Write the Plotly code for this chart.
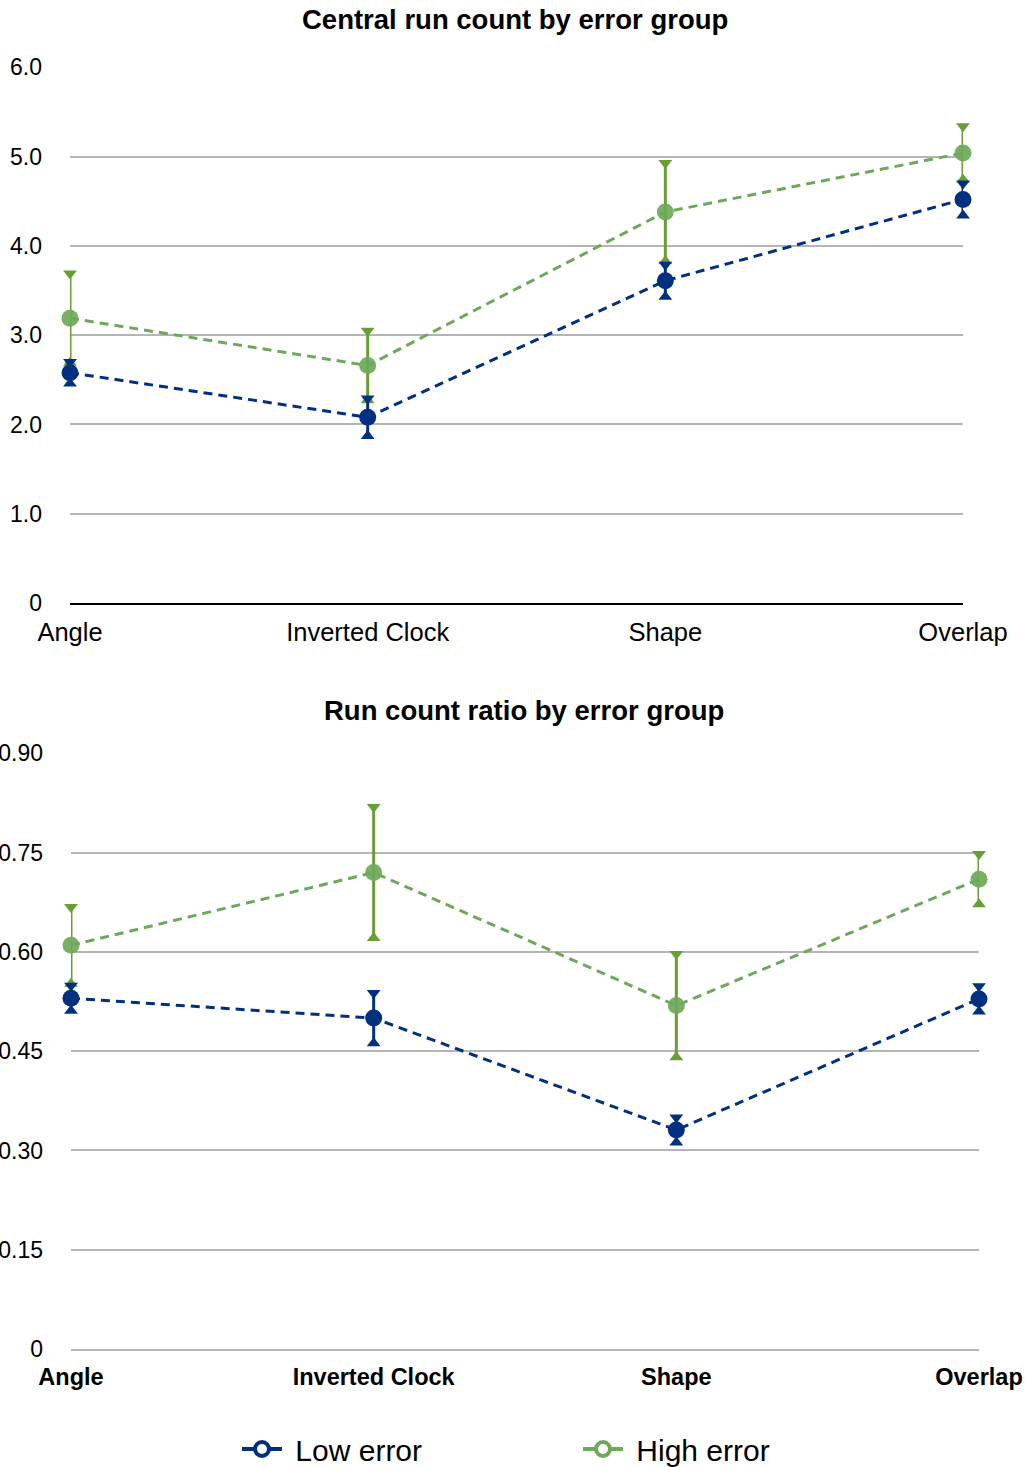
import plotly.graph_objects as go

categories = ["Angle", "Inverted Clock", "Shape", "Overlap"]

# Top chart: central run count
count_low = [2.58, 2.08, 3.61, 4.52]
count_low_err = [0.12, 0.21, 0.18, 0.18]
count_high = [3.19, 2.66, 4.38, 5.04]
count_high_err = [0.50, 0.39, 0.55, 0.30]

# Bottom chart: run count ratio
ratio_low = [0.530, 0.500, 0.331, 0.529]
ratio_low_err = [0.019, 0.038, 0.019, 0.019]
ratio_high = [0.610, 0.720, 0.519, 0.710]
ratio_high_err = [0.058, 0.099, 0.078, 0.038]

top_ticks = [0, 1, 2, 3, 4, 5, 6]
top_ticktext = ["0", "1.0", "2.0", "3.0", "4.0", "5.0", "6.0"]
bot_ticks = [0, 0.15, 0.30, 0.45, 0.60, 0.75, 0.90]
bot_ticktext = ["0", "0.15", "0.30", "0.45", "0.60", "0.75", "0.90"]

series_names = ["Low error", "High error"]

BLUE = "#00307f"
GREEN_LINE = "#6fa85a"
GREEN_BAR = "#679f35"
GREEN_MARK = "rgba(111,168,90,0.92)"
GRID = "#b4b4b4"
FONT = "Liberation Sans, Arial, Helvetica, sans-serif"

W, H = 1025, 1467

fig = go.Figure()


def add_series(xa, ya, vals, errs, line_color, bar_color, mark_color):
    fig.add_trace(go.Scatter(
        x=categories, y=vals, xaxis=xa, yaxis=ya, mode="lines",
        line=dict(color=line_color, width=3, dash="9px,6px"),
        showlegend=False, hoverinfo="skip", cliponaxis=False))
    fig.add_trace(go.Scatter(
        x=categories, y=vals, xaxis=xa, yaxis=ya, mode="markers",
        marker=dict(color="rgba(0,0,0,0)", size=1),
        error_y=dict(type="data", array=errs, visible=True,
                     color=bar_color, thickness=3, width=0),
        showlegend=False, hoverinfo="skip", cliponaxis=False))
    tops = [v + e for v, e in zip(vals, errs)]
    bots = [v - e for v, e in zip(vals, errs)]
    fig.add_trace(go.Scatter(
        x=categories, y=tops, xaxis=xa, yaxis=ya, mode="markers",
        marker=dict(symbol="triangle-down", size=12, color=bar_color,
                    line=dict(width=0)),
        showlegend=False, hoverinfo="skip", cliponaxis=False))
    fig.add_trace(go.Scatter(
        x=categories, y=bots, xaxis=xa, yaxis=ya, mode="markers",
        marker=dict(symbol="triangle-up", size=12, color=bar_color,
                    line=dict(width=0)),
        showlegend=False, hoverinfo="skip", cliponaxis=False))
    fig.add_trace(go.Scatter(
        x=categories, y=vals, xaxis=xa, yaxis=ya, mode="markers",
        marker=dict(symbol="circle", size=17, color=mark_color,
                    line=dict(width=0)),
        showlegend=False, hoverinfo="skip", cliponaxis=False))


add_series("x", "y", count_high, count_high_err, GREEN_LINE, GREEN_BAR, GREEN_MARK)
add_series("x", "y", count_low, count_low_err, BLUE, BLUE, BLUE)
add_series("x2", "y2", ratio_high, ratio_high_err, GREEN_LINE, GREEN_BAR, GREEN_MARK)
add_series("x2", "y2", ratio_low, ratio_low_err, BLUE, BLUE, BLUE)

# Legend-only entries
for name, col in zip(series_names, [BLUE, GREEN_LINE]):
    fig.add_trace(go.Scatter(
        x=[None], y=[None], mode="lines+markers", name="\u00a0" + name,
        line=dict(color=col, width=4),
        marker=dict(symbol="circle", size=14, color="white",
                    line=dict(color=col, width=4))))

top_dom_y = [1 - 603 / H, 1 - 67 / H]
bot_dom_y = [1 - 1349 / H, 1 - 753 / H]
top_dom_x = [70 / W, 963 / W]
bot_dom_x = [71 / W, 979 / W]

fig.update_layout(
    width=W, height=H,
    margin=dict(l=0, r=0, t=0, b=0, autoexpand=False),
    paper_bgcolor="white", plot_bgcolor="white",
    font=dict(family=FONT, color="black"),
    xaxis=dict(domain=top_dom_x, anchor="y", type="category",
               categoryorder="array", categoryarray=categories,
               range=[0, 3], showgrid=False, showline=True,
               linecolor="black", linewidth=2, zeroline=False,
               tickfont=dict(size=25.5, family=FONT), ticks="",
               ticklabelstandoff=5, automargin=False),
    yaxis=dict(domain=top_dom_y, anchor="x", range=[0, 6.004],
               tickvals=top_ticks, ticktext=top_ticktext,
               showgrid=True, gridcolor=GRID, gridwidth=2,
               zeroline=False, showline=False, ticks="",
               tickfont=dict(size=23, family=FONT),
               ticklabelstandoff=27, automargin=False),
    xaxis2=dict(domain=bot_dom_x, anchor="y2", type="category",
                categoryorder="array", categoryarray=categories,
                range=[0, 3], showgrid=False, showline=True,
                linecolor=GRID, linewidth=2, zeroline=False,
                tickfont=dict(size=23.5, family=FONT, weight="bold"),
                ticks="", ticklabelstandoff=6, automargin=False),
    yaxis2=dict(domain=bot_dom_y, anchor="x2", range=[0, 0.9006],
                tickvals=bot_ticks, ticktext=bot_ticktext,
                showgrid=True, gridcolor=GRID, gridwidth=2,
                zeroline=False, showline=False, ticks="",
                tickfont=dict(size=23, family=FONT),
                ticklabelstandoff=27, automargin=False),
    legend=dict(orientation="h", x=237 / W, xanchor="left",
                y=1 - 1449 / H, yanchor="middle",
                font=dict(size=30, family=FONT),
                entrywidth=286, entrywidthmode="pixels",
                itemwidth=40, bgcolor="rgba(0,0,0,0)"),
    annotations=[
        dict(text="<b>Central run count by error group</b>", xref="paper",
             yref="paper", x=515 / W, y=1 - 20 / H, xanchor="center",
             yanchor="middle", showarrow=False,
             font=dict(size=27.5, family=FONT)),
        dict(text="<b>Run count ratio by error group</b>", xref="paper",
             yref="paper", x=524 / W, y=1 - 710 / H, xanchor="center",
             yanchor="middle", showarrow=False,
             font=dict(size=27.5, family=FONT)),
    ],
)

fig.write_html(
    "out.html",
    config={"displayModeBar": False},
    post_script="document.body.style.margin='0';document.body.style.overflow='hidden';",
)
